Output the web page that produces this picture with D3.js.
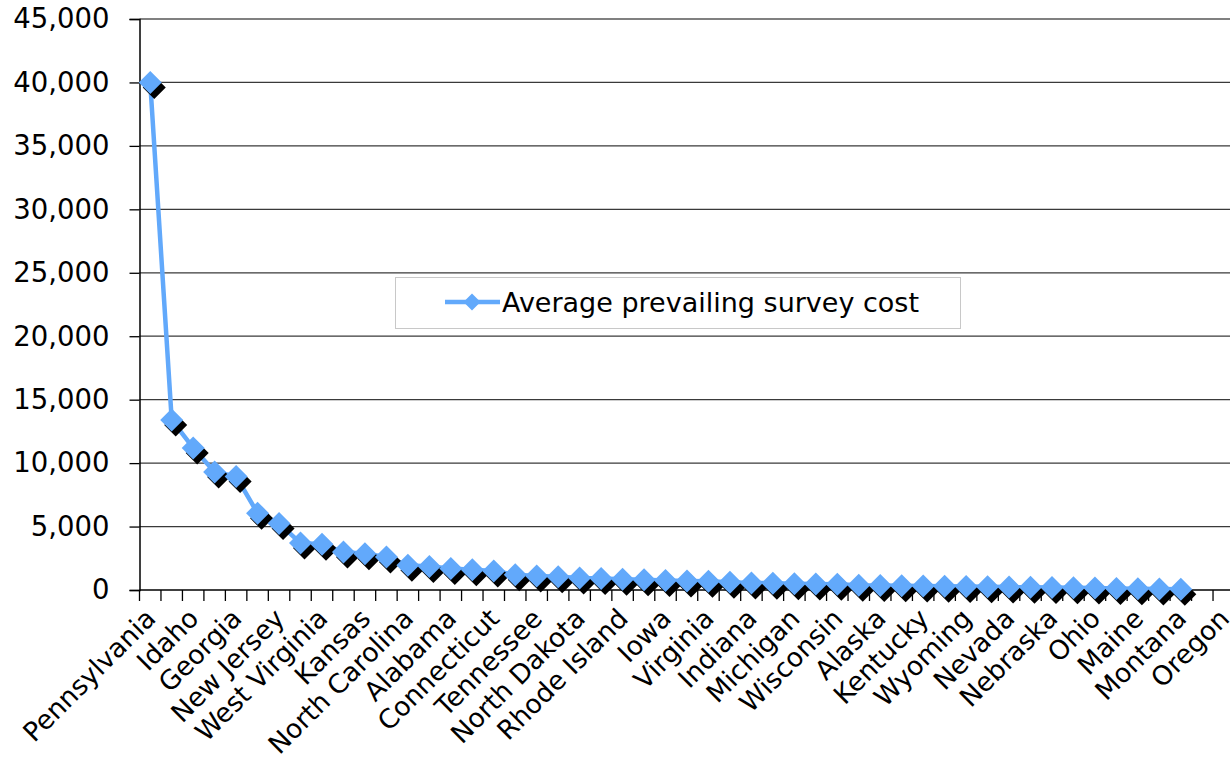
<!DOCTYPE html>
<html>
<head>
<meta charset="utf-8">
<script src="https://cdn.jsdelivr.net/npm/d3@7"></script>
<style>
  html, body { margin: 0; padding: 0; background: #fff; }
  svg { display: block; }
  text { font-family: "DejaVu Sans", Verdana, sans-serif; fill: #000; }
</style>
</head>
<body>
<svg id="chart" width="1230" height="766"></svg>
<script>
// ---- data ----
const categories = [
  "Pennsylvania", "Arizona", "Idaho", "Arkansas", "Georgia", "California",
  "New Jersey", "Colorado", "West Virginia", "Delaware", "Kansas", "Florida",
  "North Carolina", "Hawaii", "Alabama", "Illinois", "Connecticut", "Louisiana",
  "Tennessee", "Maryland", "North Dakota", "Massachusetts", "Rhode Island", "Minnesota",
  "Iowa", "Mississippi", "Virginia", "Missouri", "Indiana", "New Hampshire",
  "Michigan", "New Mexico", "Wisconsin", "New York", "Alaska", "Oklahoma",
  "Kentucky", "South Carolina", "Wyoming", "South Dakota", "Nevada", "Texas",
  "Nebraska", "Utah", "Ohio", "Vermont", "Maine", "Washington",
  "Montana", "District of Columbia", "Oregon"
];
const values = [
  40000, 13400, 11200, 9300, 8950, 6050, 5250, 3700, 3600, 3000,
  2850, 2600, 1950, 1850, 1700, 1600, 1500, 1200, 1100, 1050,
  950, 900, 850, 800, 750, 700, 680, 620, 560, 540,
  500, 480, 450, 380, 360, 340, 310, 290, 270, 250,
  230, 210, 190, 170, 150, 120, 100, 80, 50, null, null
];
const yTicks = [0, 5000, 10000, 15000, 20000, 25000, 30000, 35000, 40000, 45000];
const seriesName = "Average prevailing survey cost";

// ---- layout ----
const svg = d3.select("#chart");
const plotLeft = 139.5, plotRight = 1234.5, plotTop = 19, plotBottom = 590;
const blue = "#62a9fb";

const x = d3.scaleBand().domain(categories).range([plotLeft, plotRight]).paddingInner(0).paddingOuter(0);
const y = d3.scaleLinear().domain([0, 45000]).range([plotBottom, plotTop]);

// gridlines
svg.append("g").selectAll("line")
  .data(yTicks.filter(d => d > 0))
  .join("line")
  .attr("x1", plotLeft).attr("x2", 1230)
  .attr("y1", d => y(d)).attr("y2", d => y(d))
  .attr("stroke", d => d === 45000 ? "#808080" : "#3a3a3a")
  .attr("stroke-width", d => d === 45000 ? 2 : 1.3);

// y axis
const yAxis = svg.append("g")
  .attr("transform", `translate(${plotLeft},0)`)
  .call(d3.axisLeft(y).tickValues(yTicks).tickSize(10).tickPadding(20)
    .tickFormat(d3.format(",")));
yAxis.select(".domain").attr("stroke", "#000").attr("stroke-width", 1.5);
yAxis.selectAll(".tick line").attr("stroke", "#000").attr("stroke-width", 1.3);
yAxis.selectAll("text").style("font-size", "27.5px").attr("fill", "#000")
  .style("font-family", '"DejaVu Sans", Verdana, sans-serif');

// x axis: ticks between categories
const xg = svg.append("g");
xg.append("line").attr("x1", plotLeft).attr("x2", 1230)
  .attr("y1", plotBottom).attr("y2", plotBottom)
  .attr("stroke", "#000").attr("stroke-width", 1.5);
xg.selectAll("line.tick")
  .data(categories)
  .join("line").attr("class", "tick")
  .attr("x1", d => x(d)).attr("x2", d => x(d))
  .attr("y1", plotBottom).attr("y2", plotBottom + 11)
  .attr("stroke", "#000").attr("stroke-width", 1.3);

xg.selectAll("text")
  .data(categories.filter((d, i) => i % 2 === 0))
  .join("text")
  .attr("transform", d => `translate(${x(d) + x.bandwidth() / 2 - 6},${plotBottom + 17}) rotate(-45)`)
  .attr("text-anchor", "end")
  .attr("dy", "0.7em")
  .style("font-size", "26.5px")
  .text(d => d);

// line
const pts = categories.map((c, i) => ({ c, v: values[i] })).filter(d => d.v !== null);
const line = d3.line().x(d => x(d.c) + x.bandwidth() / 2).y(d => y(d.v));
svg.append("path").datum(pts)
  .attr("d", line)
  .attr("fill", "none")
  .attr("stroke", blue)
  .attr("stroke-width", 4.5)
  .attr("stroke-linejoin", "round");

const diamond = r => `M0,${-r}L${r},0L0,${r}L${-r},0Z`;

// shadows
svg.append("g").selectAll("path")
  .data(pts).join("path")
  .attr("d", diamond(11.5))
  .attr("transform", d => `translate(${x(d.c) + x.bandwidth() / 2 + 4},${y(d.v) + 5})`)
  .attr("fill", "#000");
// markers
svg.append("g").selectAll("path")
  .data(pts).join("path")
  .attr("d", diamond(11.5))
  .attr("transform", d => `translate(${x(d.c) + x.bandwidth() / 2},${y(d.v)})`)
  .attr("fill", blue);

// legend
const lg = svg.append("g");
lg.append("rect").attr("x", 395.5).attr("y", 277.5).attr("width", 565).attr("height", 51)
  .attr("fill", "#fff").attr("stroke", "#c8c8c8").attr("stroke-width", 1);
lg.append("line").attr("x1", 445).attr("x2", 500).attr("y1", 302).attr("y2", 302)
  .attr("stroke", blue).attr("stroke-width", 4.5);
lg.append("path").attr("d", diamond(8.5)).attr("transform", "translate(472,302)").attr("fill", blue);
lg.append("text").attr("x", 502).attr("y", 302).attr("dy", "0.36em")
  .style("font-size", "27px").text(seriesName);
</script>
</body>
</html>
